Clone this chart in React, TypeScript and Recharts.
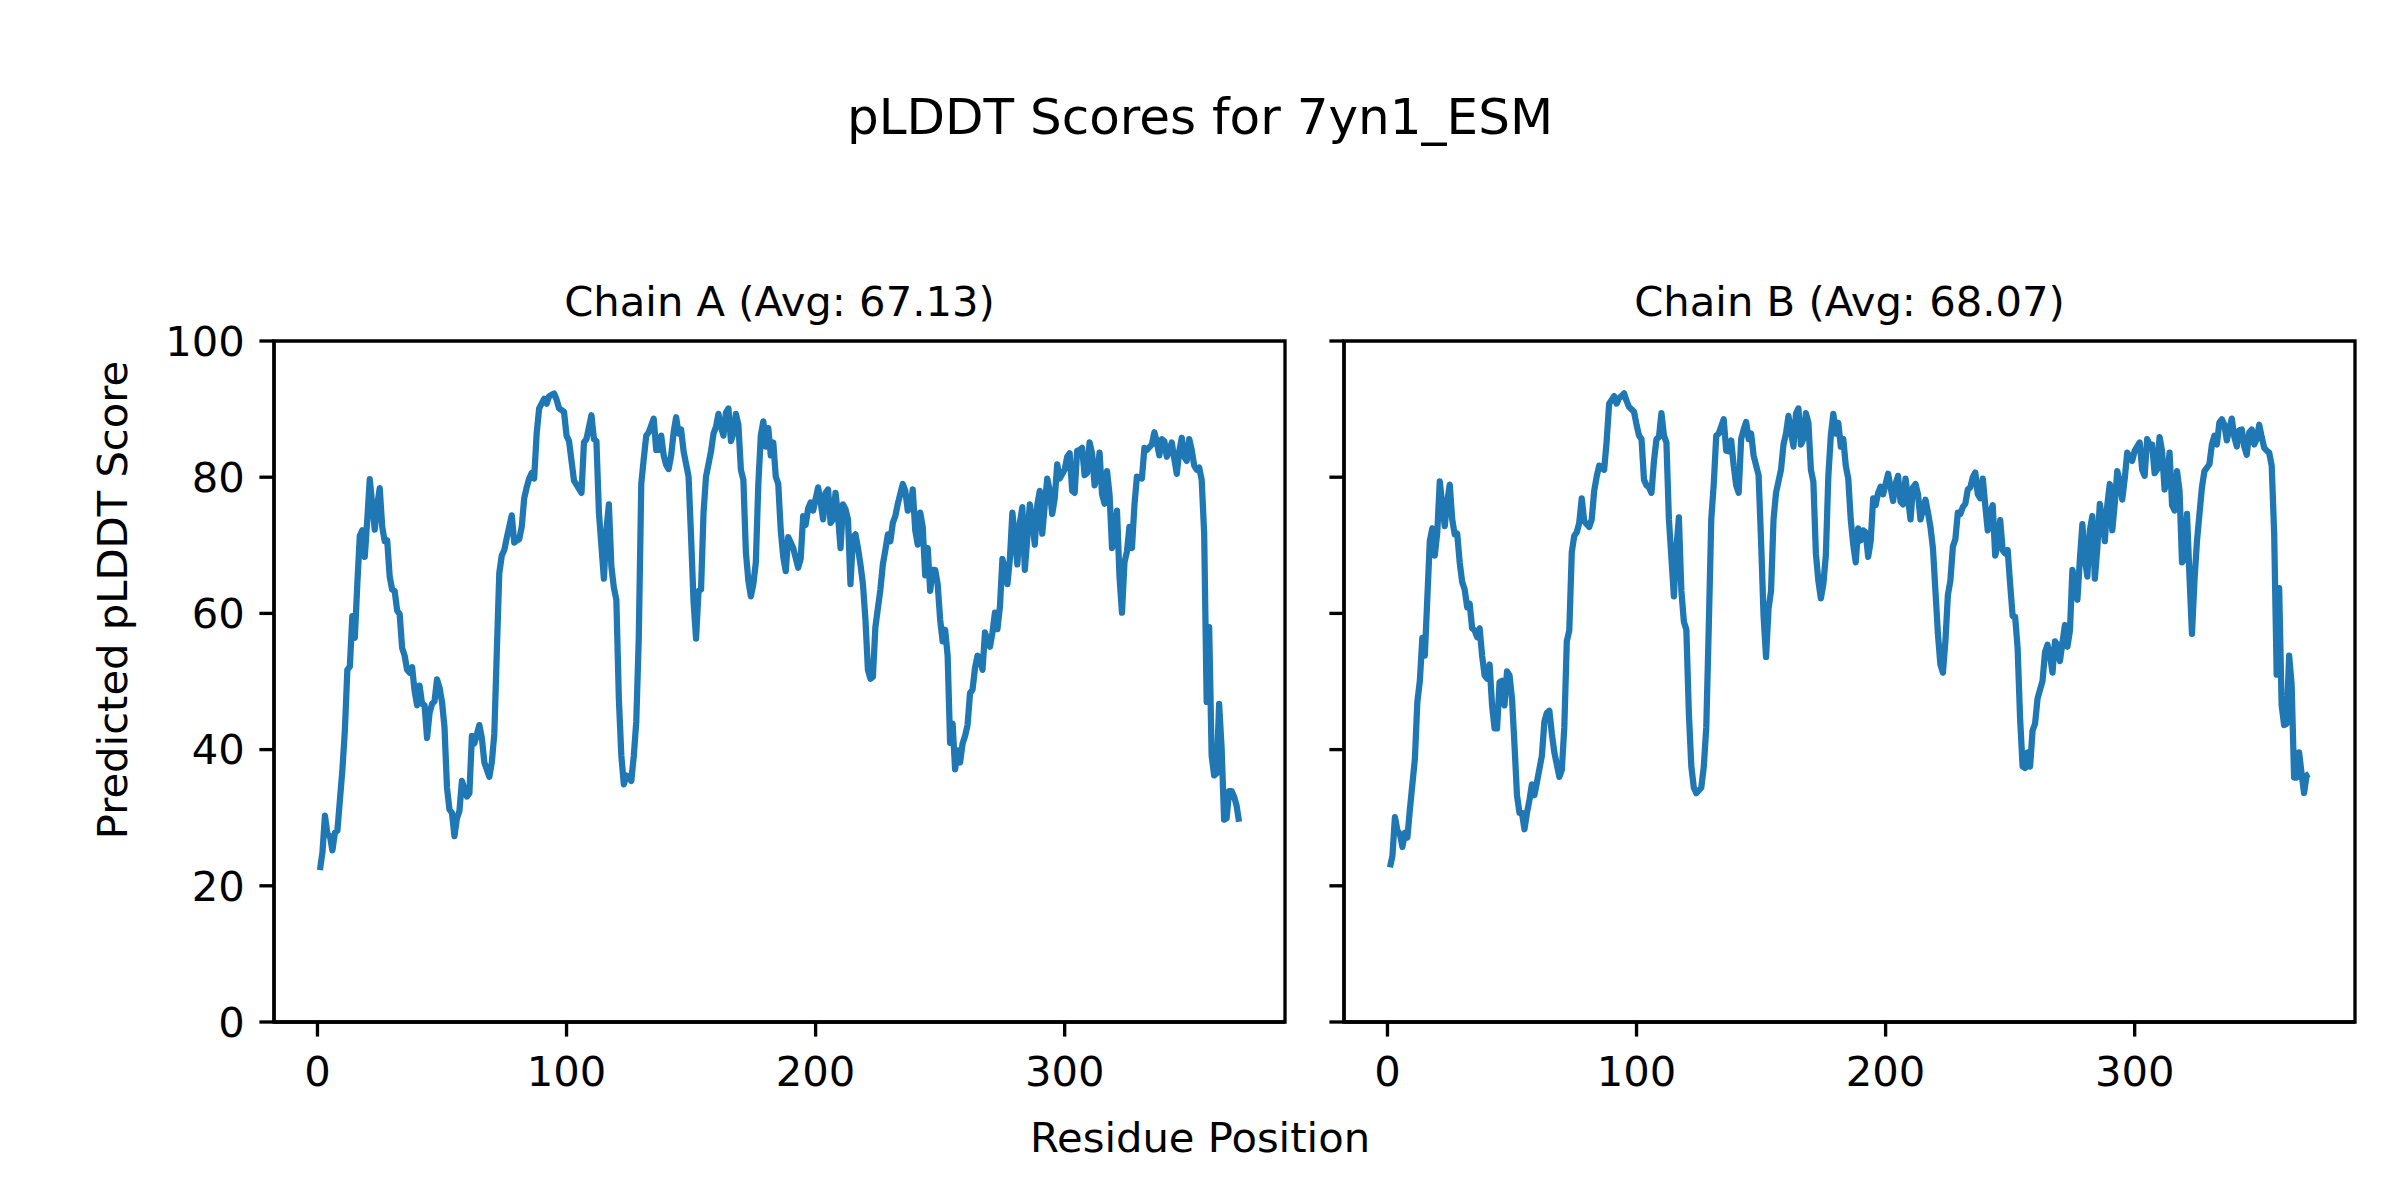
import { LineChart, Line, XAxis, YAxis, ReferenceArea } from 'recharts';

// residue positions and pLDDT values
const residuesA = [
  1, 2, 3, 4, 5, 6, 7, 8, 10, 11, 12, 13, 14, 15, 16, 17, 18, 19, 20, 21,
  22, 23, 24, 25, 26, 27, 28, 29, 30, 31, 32, 33, 34, 35, 36, 37, 38, 39, 40, 41,
  42, 43, 44, 45, 46, 47, 48, 49, 50, 51, 52, 53, 54, 55, 56, 57, 58, 60, 61, 62,
  63, 65, 66, 67, 69, 70, 71, 72, 73, 74, 75, 76, 78, 79, 80, 81, 82, 83, 84, 85,
  86, 87, 88, 89, 91, 92, 93, 95, 96, 97, 99, 100, 101, 103, 106, 107, 108, 110, 111, 112,
  113, 115, 116, 117, 118, 119, 120, 121, 122, 123, 124, 126, 127, 128, 129, 130, 131, 132, 133, 135,
  136, 137, 138, 139, 140, 141, 142, 143, 144, 145, 146, 147, 149, 150, 151, 152, 153, 154, 155, 156,
  158, 159, 160, 161, 162, 163, 164, 165, 166, 167, 168, 169, 170, 171, 172, 173, 174, 175, 176, 177,
  178, 179, 180, 181, 182, 183, 184, 185, 186, 187, 188, 189, 190, 191, 193, 194, 195, 196, 197, 198,
  199, 201, 202, 203, 204, 205, 206, 207, 208, 209, 210, 211, 212, 213, 214, 215, 216, 217, 218, 219,
  220, 221, 222, 223, 224, 226, 227, 228, 229, 230, 231, 232, 233, 235, 236, 237, 238, 239, 240, 241,
  242, 243, 244, 245, 246, 247, 248, 249, 250, 251, 252, 253, 254, 255, 256, 257, 258, 259, 260, 261,
  262, 263, 264, 265, 266, 267, 268, 269, 270, 271, 272, 273, 274, 275, 276, 277, 278, 279, 280, 281,
  282, 283, 284, 285, 286, 287, 288, 289, 290, 291, 292, 293, 294, 295, 296, 297, 298, 300, 301, 302,
  303, 304, 305, 306, 307, 308, 309, 310, 311, 312, 313, 314, 315, 316, 317, 318, 319, 320, 321, 322,
  323, 324, 325, 326, 327, 328, 329, 331, 332, 333, 335, 336, 337, 338, 339, 340, 341, 342, 343, 344,
  345, 346, 347, 348, 349, 350, 351, 352, 353, 354, 355, 356, 357, 358, 359, 360, 361, 362, 363, 364,
  365, 366, 367, 368, 369, 370,
];
const scoresA = [
  22.3, 24.9, 30.3, 27.6, 27.3, 25.2, 27.8, 28.1, 37.0, 42.8, 51.7, 52.2, 59.6, 56.4, 64.3, 71.4, 72.2, 68.3, 73.8, 79.7,
  75.9, 72.3, 75.9, 78.4, 72.7, 70.6, 70.7, 65.4, 63.5, 63.3, 60.4, 59.9, 54.9, 53.8, 51.7, 51.3, 52.1, 48.6, 46.5, 49.4,
  46.7, 46.5, 41.7, 45.4, 46.7, 47.1, 50.3, 49.1, 47.0, 43.3, 34.4, 31.2, 30.7, 27.3, 29.9, 31.0, 35.4, 33.1, 33.6, 42.0,
  40.9, 43.6, 41.7, 38.1, 36.0, 38.1, 42.3, 54.3, 65.9, 68.5, 69.3, 71.1, 74.4, 70.4, 70.7, 70.9, 72.7, 76.9, 78.5, 79.8,
  80.6, 79.8, 86.4, 90.1, 91.5, 90.8, 91.9, 92.3, 91.4, 90.1, 89.6, 86.1, 85.3, 79.5, 77.7, 85.1, 85.6, 89.1, 85.6, 85.3,
  74.8, 65.1, 72.2, 76.0, 66.9, 63.8, 62.0, 47.5, 39.1, 34.9, 36.2, 35.4, 39.1, 44.1, 56.4, 79.0, 82.7, 86.1, 86.6, 88.6,
  84.0, 84.0, 86.1, 83.2, 81.8, 81.2, 83.2, 86.6, 88.8, 86.4, 87.0, 83.8, 80.1, 71.2, 61.7, 56.3, 63.3, 63.5, 74.8, 80.1,
  83.8, 86.4, 87.4, 89.3, 87.4, 86.1, 89.5, 90.1, 85.3, 86.4, 89.3, 87.7, 81.1, 79.6, 69.0, 64.8, 62.5, 64.3, 67.5, 79.0,
  86.1, 88.2, 84.5, 87.2, 83.2, 85.1, 80.1, 79.0, 72.2, 68.3, 66.2, 71.2, 70.4, 69.6, 66.7, 68.0, 74.3, 73.0, 75.4, 76.3,
  75.1, 78.5, 76.4, 73.8, 77.7, 78.2, 73.3, 73.8, 77.7, 74.3, 69.6, 76.0, 75.3, 73.8, 64.3, 71.2, 71.6, 69.6, 67.2, 64.3,
  59.1, 51.7, 50.4, 50.7, 58.0, 63.5, 67.2, 69.3, 71.6, 70.6, 73.3, 74.3, 76.1, 79.0, 78.0, 75.1, 75.4, 78.2, 72.2, 70.1,
  74.8, 72.7, 65.6, 69.6, 63.3, 66.4, 66.4, 64.3, 59.1, 55.9, 57.6, 53.8, 41.0, 43.8, 37.1, 39.9, 38.1, 40.9, 42.0, 43.6,
  48.3, 48.8, 52.0, 53.8, 53.3, 51.7, 57.2, 55.9, 55.1, 57.2, 60.1, 57.7, 61.0, 68.0, 66.4, 64.3, 68.0, 74.8, 71.1, 67.2,
  73.3, 75.6, 66.4, 71.1, 76.0, 73.8, 70.1, 75.9, 78.0, 71.7, 75.9, 79.8, 78.0, 74.6, 76.9, 81.9, 79.8, 81.1, 83.0, 83.5,
  78.0, 77.7, 83.9, 84.0, 84.3, 80.3, 80.6, 85.1, 83.5, 78.8, 80.1, 83.6, 77.5, 76.1, 80.9, 77.5, 69.6, 71.7, 75.1, 65.4,
  60.1, 67.5, 69.1, 72.7, 69.6, 75.9, 80.1, 79.8, 84.3, 84.0, 84.8, 86.6, 85.1, 83.2, 85.6, 85.3, 83.0, 83.8, 85.1, 82.7,
  80.5, 83.8, 85.8, 83.0, 82.4, 85.6, 84.0, 81.7, 81.1, 81.4, 79.6, 71.7, 47.0, 58.0, 39.1, 36.2, 36.5, 46.7, 40.2, 29.7,
  29.9, 33.9, 33.9, 33.1, 31.8, 29.4,
];

const residuesB = [
  1, 2, 3, 4, 5, 6, 7, 8, 9, 11, 12, 13, 14, 15, 16, 17, 18, 19, 20, 21,
  22, 23, 24, 25, 26, 27, 28, 29, 30, 31, 32, 33, 34, 35, 36, 37, 38, 39, 40, 41,
  42, 43, 44, 45, 46, 47, 48, 49, 50, 51, 52, 53, 54, 55, 56, 57, 58, 59, 60, 62,
  63, 64, 65, 66, 67, 69, 70, 71, 72, 73, 74, 75, 76, 77, 78, 79, 81, 82, 83, 84,
  85, 87, 88, 89, 91, 92, 93, 95, 96, 97, 99, 100, 101, 102, 103, 104, 105, 106, 107, 108,
  109, 110, 111, 112, 113, 115, 116, 117, 118, 119, 120, 121, 122, 123, 124, 126, 127, 128, 129, 130,
  131, 132, 133, 135, 136, 137, 138, 139, 140, 141, 142, 143, 144, 145, 146, 147, 149, 150, 151, 152,
  153, 154, 155, 156, 158, 159, 160, 161, 162, 163, 164, 165, 166, 167, 168, 169, 170, 171, 172, 173,
  174, 175, 176, 177, 178, 179, 180, 181, 182, 183, 184, 185, 186, 187, 188, 189, 190, 191, 192, 193,
  194, 195, 196, 197, 198, 199, 201, 202, 203, 204, 205, 206, 207, 208, 209, 210, 211, 212, 213, 214,
  215, 216, 217, 218, 219, 220, 221, 222, 223, 224, 225, 226, 227, 228, 229, 230, 231, 232, 233, 234,
  235, 236, 237, 238, 239, 240, 241, 242, 243, 244, 245, 246, 247, 248, 249, 250, 251, 252, 253, 254,
  255, 256, 257, 258, 259, 260, 261, 262, 263, 264, 265, 266, 267, 268, 269, 270, 271, 272, 273, 274,
  275, 276, 277, 278, 279, 280, 281, 282, 283, 284, 285, 286, 287, 288, 289, 290, 291, 292, 293, 294,
  295, 296, 297, 299, 300, 302, 303, 304, 305, 306, 307, 308, 309, 310, 311, 312, 313, 314, 315, 316,
  317, 318, 319, 320, 321, 322, 323, 324, 325, 326, 327, 328, 330, 331, 332, 333, 334, 335, 336, 337,
  338, 339, 340, 341, 342, 343, 344, 345, 346, 347, 348, 349, 350, 351, 352, 353, 354, 355, 356, 357,
  358, 359, 360, 361, 362, 363, 364, 365, 366, 367, 368, 369, 370,
];
const scoresB = [
  22.7, 24.4, 30.1, 28.1, 27.6, 25.7, 27.8, 27.1, 31.2, 38.6, 47.0, 50.1, 56.4, 53.8, 62.2, 70.6, 72.5, 68.5, 71.9, 79.4,
  75.9, 72.8, 76.4, 78.9, 73.8, 71.6, 71.7, 67.5, 64.6, 63.5, 60.9, 61.4, 57.8, 57.5, 56.5, 57.8, 53.8, 50.9, 50.4, 52.5,
  46.5, 43.1, 43.1, 49.9, 50.1, 46.5, 51.5, 50.9, 47.5, 40.7, 33.3, 30.7, 30.7, 28.3, 30.7, 32.6, 34.9, 33.3, 35.2, 39.1,
  44.1, 45.4, 45.7, 42.3, 39.6, 36.0, 37.0, 43.3, 55.9, 57.5, 69.0, 71.4, 71.9, 73.3, 76.9, 73.5, 72.7, 73.8, 78.0, 80.1,
  81.7, 81.1, 85.3, 90.8, 91.9, 90.8, 91.6, 92.3, 91.2, 90.3, 89.6, 87.7, 86.1, 85.6, 79.6, 78.8, 78.5, 77.7, 82.4, 85.6,
  85.9, 89.4, 86.1, 85.1, 73.8, 62.5, 69.6, 74.1, 63.3, 58.8, 57.6, 45.4, 37.5, 34.4, 33.6, 34.4, 37.5, 43.3, 58.0, 73.8,
  79.0, 86.1, 86.4, 88.5, 83.9, 83.8, 85.4, 81.7, 78.8, 77.7, 85.6, 87.0, 88.1, 85.6, 86.4, 83.2, 80.3, 70.6, 59.6, 53.6,
  60.7, 63.3, 73.8, 77.7, 81.1, 84.8, 86.4, 89.0, 86.6, 84.5, 89.3, 90.1, 84.8, 85.6, 89.4, 88.0, 81.1, 79.3, 68.8, 64.8,
  62.2, 64.3, 68.5, 80.1, 86.1, 89.3, 86.4, 88.0, 84.5, 85.6, 81.7, 79.8, 73.8, 70.1, 67.5, 72.5, 70.7, 72.2, 71.9, 68.3,
  70.6, 76.9, 75.9, 77.7, 78.6, 77.5, 80.5, 78.5, 76.5, 79.0, 80.2, 76.4, 76.0, 79.8, 76.9, 73.8, 78.5, 79.0, 77.5, 73.8,
  75.3, 76.7, 74.8, 72.7, 69.6, 63.3, 57.0, 52.5, 51.3, 55.9, 62.7, 64.8, 69.8, 70.9, 74.8, 74.6, 75.6, 76.1, 78.2, 78.5,
  80.0, 80.7, 77.5, 76.9, 79.8, 75.9, 72.2, 74.8, 75.9, 68.5, 70.1, 73.7, 69.3, 68.8, 69.3, 64.3, 59.6, 59.5, 54.9, 44.5,
  37.5, 37.3, 39.6, 37.5, 42.8, 43.8, 47.5, 48.8, 50.1, 54.3, 55.4, 53.8, 51.3, 55.9, 55.4, 53.0, 55.7, 58.3, 55.1, 57.5,
  66.4, 64.3, 62.0, 68.0, 73.1, 68.0, 65.4, 72.2, 74.3, 65.1, 69.6, 76.1, 73.8, 70.6, 75.9, 79.0, 72.2, 76.1, 80.9, 79.3,
  76.7, 79.8, 83.6, 82.4, 83.9, 85.1, 81.1, 80.2, 85.6, 84.8, 84.8, 80.6, 81.1, 85.9, 83.8, 78.2, 79.6, 83.6, 75.9, 75.1,
  80.9, 78.0, 67.5, 68.0, 74.6, 65.4, 57.0, 64.8, 70.6, 74.6, 78.5, 80.9, 81.9, 84.8, 86.1, 84.8, 88.0, 88.5, 87.7, 85.4,
  87.2, 88.6, 85.9, 84.5, 86.9, 87.0, 84.5, 83.3, 86.6, 87.0, 84.8, 85.6, 87.7, 85.9, 84.3, 83.9, 83.6, 81.7, 71.7, 51.0,
  63.7, 46.5, 43.6, 43.8, 53.8, 49.6, 35.9, 35.9, 39.6, 36.5, 33.6, 36.2, 36.4,
];

const xTicks = [0, 100, 200, 300];
const yTicks = [0, 20, 40, 60, 80, 100];
const chainTitles = ['Chain A (Avg: 67.13)', 'Chain B (Avg: 68.07)'];

const FONT = 'DejaVu Sans';
const BLUE = '#1f77b4';
// matplotlib default margins: 5% padding around residues 1..370
const X_DOMAIN: [number, number] = [-17.45, 388.45];
const SPINE = 3.33;
const TICK_LEN = 14.6;

const dataA = residuesA.map((r, i) => ({ residue: r, score: scoresA[i] }));
const dataB = residuesB.map((r, i) => ({ residue: r, score: scoresB[i] }));

type PanelProps = {
  data: { residue: number; score: number }[];
  left: number;
  width: number;
  yAxisWidth: number;
  marginRight: number;
  showYLabels: boolean;
};

function ChainPanel({ data, left, width, yAxisWidth, marginRight, showYLabels }: PanelProps) {
  return (
    <div style={{ position: 'absolute', left, top: 0 }}>
      <LineChart
        width={width}
        height={1200}
        data={data}
        margin={{ top: 341, right: marginRight, bottom: 78, left: 0 }}
      >
        <XAxis
          dataKey="residue"
          type="number"
          domain={X_DOMAIN}
          ticks={xTicks}
          height={100}
          allowDataOverflow
          axisLine={{ stroke: '#000', strokeWidth: SPINE }}
          tickLine={{ stroke: '#000', strokeWidth: SPINE }}
          tickSize={TICK_LEN}
          tickMargin={20}
          tick={{ fontSize: 41.7, fill: '#000', fontFamily: FONT }}
        />
        <YAxis
          type="number"
          domain={[0, 100]}
          ticks={yTicks}
          width={yAxisWidth}
          axisLine={{ stroke: '#000', strokeWidth: SPINE }}
          tickLine={{ stroke: '#000', strokeWidth: SPINE }}
          tickSize={TICK_LEN}
          tickMargin={14.6}
          tick={{ fontSize: 41.7, fill: '#000', fontFamily: FONT }}
          tickFormatter={showYLabels ? undefined : () => ''}
        />
        <ReferenceArea
          x1={X_DOMAIN[0]}
          x2={X_DOMAIN[1]}
          y1={0}
          y2={100}
          fill="none"
          stroke="#000"
          strokeWidth={SPINE}
        />
        <Line
          type="linear"
          dataKey="score"
          stroke={BLUE}
          strokeWidth={6.25}
          strokeLinejoin="round"
          dot={false}
          isAnimationActive={false}
        />
      </LineChart>
    </div>
  );
}

export default function App() {
  return (
    <div
      style={{
        position: 'absolute',
        left: 0,
        top: 0,
        width: 2400,
        height: 1200,
        background: '#fff',
        fontFamily: FONT,
      }}
    >
      <ChainPanel data={dataA} left={0} width={1300} yAxisWidth={274} marginRight={15} showYLabels />
      <ChainPanel data={dataB} left={1300} width={1100} yAxisWidth={44} marginRight={45} showYLabels={false} />
      <svg
        width={2400}
        height={1200}
        style={{ position: 'absolute', left: 0, top: 0, pointerEvents: 'none' }}
        fontFamily={FONT}
      >
        <text x={1200} y={134} fontSize={50} textAnchor="middle" fill="#000">
          pLDDT Scores for 7yn1_ESM
        </text>
        <text x={779.5} y={316} fontSize={41.7} textAnchor="middle" fill="#000">
          {chainTitles[0]}
        </text>
        <text x={1849.5} y={316} fontSize={41.7} textAnchor="middle" fill="#000">
          {chainTitles[1]}
        </text>
        <text x={1200} y={1152} fontSize={41.7} textAnchor="middle" fill="#000">
          Residue Position
        </text>
        <text
          x={0}
          y={0}
          fontSize={41.7}
          textAnchor="middle"
          fill="#000"
          transform="translate(127, 600) rotate(-90)"
        >
          Predicted pLDDT Score
        </text>
      </svg>
    </div>
  );
}
